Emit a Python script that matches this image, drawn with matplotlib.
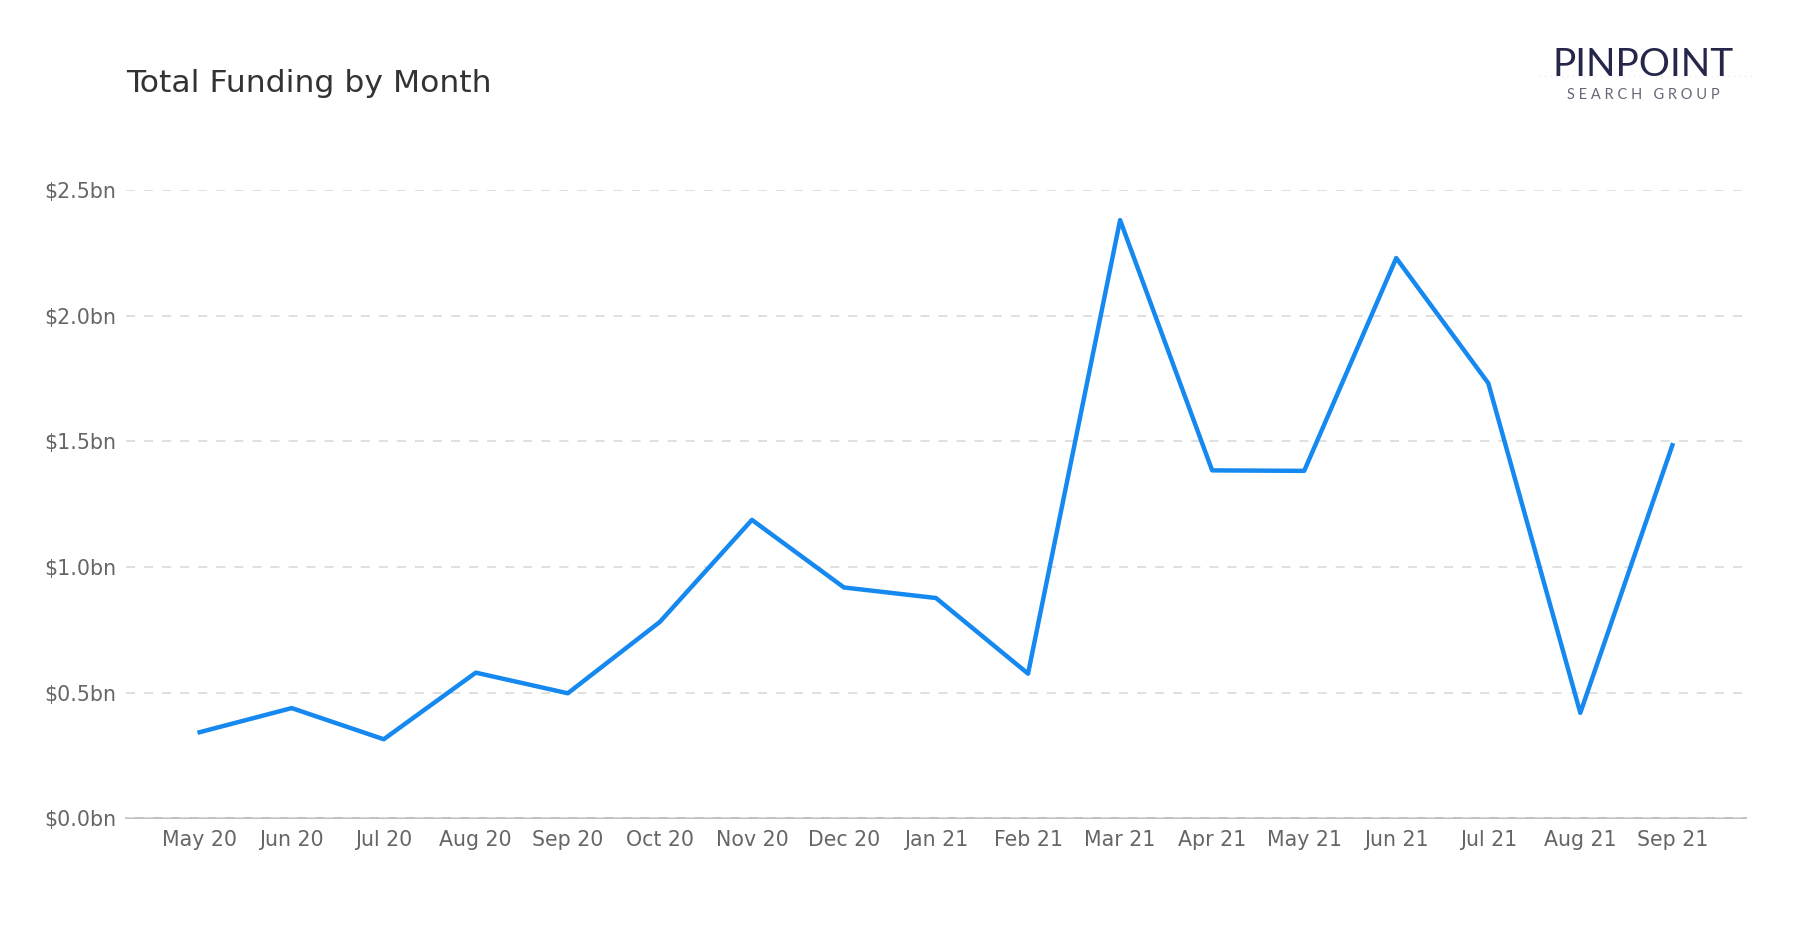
import matplotlib.pyplot as plt
from matplotlib.lines import Line2D

months = ["May 20", "Jun 20", "Jul 20", "Aug 20", "Sep 20", "Oct 20", "Nov 20",
          "Dec 20", "Jan 21", "Feb 21", "Mar 21", "Apr 21", "May 21", "Jun 21",
          "Jul 21", "Aug 21", "Sep 21"]
funding_bn = [0.343, 0.439, 0.315, 0.580, 0.498, 0.782, 1.188, 0.919, 0.877,
              0.576, 2.381, 1.385, 1.383, 2.230, 1.732, 0.420, 1.485]
y_ticks = [0.0, 0.5, 1.0, 1.5, 2.0, 2.5]

fig = plt.figure(figsize=(18, 9.3), dpi=100)
ax = fig.add_axes([0.07, 0.12, 0.9, 0.6755])

x = list(range(len(months)))
ax.plot(x, funding_bn, color="#1589F0", linewidth=3.2, solid_joinstyle="round")

ax.set_xlim(-0.8, len(months) - 0.2)
ax.set_ylim(0, 2.5)
ax.set_xticks(x)
ax.set_xticklabels(months)
ax.set_yticks(y_ticks)
ax.set_yticklabels(["$%.1fbn" % v for v in y_ticks])
ax.tick_params(axis="both", length=0, labelsize=14.8, labelcolor="#666666")
ax.tick_params(axis="x", pad=8)
ax.tick_params(axis="y", pad=7)

ax.grid(axis="y", color="#dddddd", linestyle=(0, (5, 5)), linewidth=1.3)
ax.set_axisbelow(True)
for s in ["top", "right", "left"]:
    ax.spines[s].set_visible(False)
ax.spines["bottom"].set_color("#bbbbbb")
ax.spines["bottom"].set_linewidth(1.3)
ax.spines["bottom"].set_zorder(0.5)

fig.text(0.07, 0.91, "Total Funding by Month", fontsize=22.6, color="#333333",
         ha="left", va="center")

# logo
fig.add_artist(Line2D([0.855, 0.975], [0.918, 0.918], transform=fig.transFigure,
                      color="#eeeeee", linestyle=(0, (1, 3)), linewidth=1))
fig.text(0.913, 0.93, "PINPOINT", fontsize=28, color="#25274a", fontfamily="Lato",
         ha="center", va="center")
fig.text(0.913, 0.8975, "S E A R C H   G R O U P", fontsize=10.5, color="#666677",
         fontfamily="Lato", ha="center", va="center")

fig.savefig("out.png", dpi=100, facecolor="white")
